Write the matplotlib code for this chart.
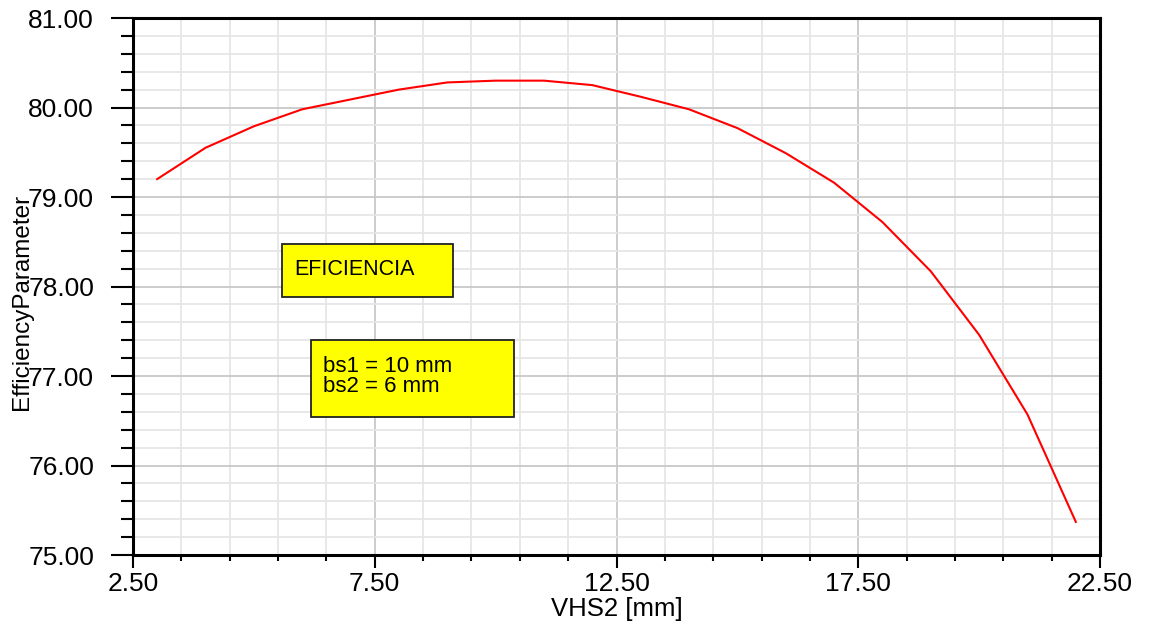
import numpy as np
import matplotlib
matplotlib.use("Agg")
import matplotlib.pyplot as plt
from matplotlib.patches import Rectangle
from matplotlib.ticker import MultipleLocator, FormatStrFormatter

plt.rcParams['font.family'] = ['Liberation Sans', 'DejaVu Sans']

# data
vhs2 = [3, 4, 5, 6, 7, 8, 9, 10, 11, 12, 13, 14, 15, 16, 17, 18, 19, 20, 21, 22]
efficiency = [79.20, 79.55, 79.79, 79.98, 80.09, 80.20, 80.28, 80.30, 80.30, 80.25,
              80.12, 79.98, 79.77, 79.49, 79.16, 78.72, 78.17, 77.46, 76.57, 75.37]
x_label = "VHS2 [mm]"
y_label = "EfficiencyParameter"
note_title = "EFICIENCIA"
note_params = "bs1 = 10 mm\nbs2 = 6 mm"

fig = plt.figure(figsize=(11.5, 6.24), dpi=100)
ax = fig.add_axes([133 / 1150, 1 - 555 / 624, 967 / 1150, 537 / 624])

ax.plot(vhs2, efficiency, color='#ff0000', lw=1.5, zorder=3)

ax.set_xlim(2.5, 22.5)
ax.set_ylim(75, 81)
ax.xaxis.set_major_locator(MultipleLocator(5, offset=2.5))
ax.xaxis.set_minor_locator(MultipleLocator(1, offset=0.5))
ax.yaxis.set_major_locator(MultipleLocator(1))
ax.yaxis.set_minor_locator(MultipleLocator(0.2))
ax.xaxis.set_major_formatter(FormatStrFormatter('%.2f'))
ax.yaxis.set_major_formatter(FormatStrFormatter('%.2f'))

ax.grid(which='minor', color='#e6e6e6', lw=1.3, zorder=0)
ax.grid(which='major', color='#c8c8c8', lw=1.3, zorder=1)
ax.set_axisbelow(True)

for s in ax.spines.values():
    s.set_linewidth(2.2)
    s.set_color('black')

ax.tick_params(axis='y', which='major', direction='out', length=16, width=1.5,
               labelsize=19, pad=12)
ax.tick_params(axis='y', which='minor', direction='out', length=9, width=1.5)
ax.tick_params(axis='x', which='major', direction='out', length=9, width=1.5,
               labelsize=19, pad=3)
ax.tick_params(axis='x', which='minor', direction='out', length=4, width=1.5)

ax.set_xlabel(x_label, fontsize=18.5, va='center')
ax.xaxis.set_label_coords(0.5, -0.101)
ax.set_ylabel(y_label, fontsize=17.5, va='center')
ax.yaxis.set_label_coords(-0.115, 0.471)

# annotation boxes
ax.add_patch(Rectangle((0.154, 0.480), 0.177, 0.099, transform=ax.transAxes,
                       facecolor='#ffff00', edgecolor='#222222', lw=1.3, zorder=5))
ax.text(0.167, 0.532, note_title, transform=ax.transAxes, fontsize=15.5,
        va='center', ha='left', zorder=6)

ax.add_patch(Rectangle((0.184, 0.257), 0.210, 0.143, transform=ax.transAxes,
                       facecolor='#ffff00', edgecolor='#222222', lw=1.3, zorder=5))
ax.text(0.197, 0.333, note_params, transform=ax.transAxes, fontsize=16,
        va='center', ha='left', linespacing=0.95, zorder=6)

fig.savefig("out.png", dpi=100)
